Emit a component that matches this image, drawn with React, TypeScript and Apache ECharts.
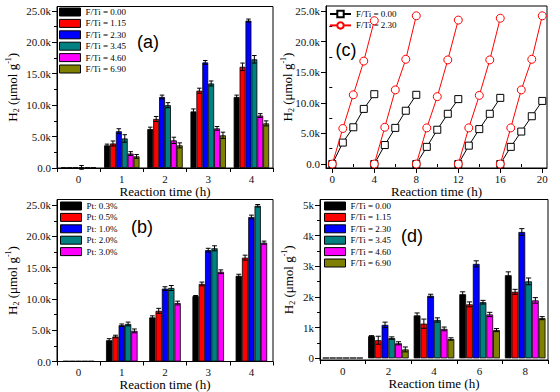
import React, { useEffect, useRef } from 'react';
import * as echarts from 'echarts';

const SERIF = "'Liberation Serif', 'Times New Roman', serif";
const SANS = "'Liberation Sans', Arial, sans-serif";

const abCategories = ['0', '1', '2', '3', '4'];
const dCategories = ['0', '2', '4', '6', '8'];

const fTiLabels = ['F/Ti = 0.00', 'F/Ti = 1.15', 'F/Ti = 2.30', 'F/Ti = 3.45', 'F/Ti = 4.60', 'F/Ti = 6.90'];
const ptLabels = ['Pt: 0.3%', 'Pt: 0.5%', 'Pt: 1.0%', 'Pt: 2.0%', 'Pt: 3.0%'];
const cLabels = ['F/Ti = 0.00', 'F/Ti = 2.30'];
const fTiColors = ['#000000', '#ff0000', '#0000ff', '#008080', '#ff00ff', '#808000'];
const ptColors = ['#000000', '#ff0000', '#0000ff', '#008080', '#ff00ff'];
const cColors = ['#000000', '#ff0000'];

// Panel (a)
const aFTi000 = [100, 3600, 6200, 9000, 11300];
const aFTi115 = [100, 3900, 7800, 12300, 16100];
const aFTi230 = [100, 5850, 11300, 16800, 23450];
const aFTi345 = [100, 4700, 10000, 13450, 17300];
const aFTi460 = [100, 2300, 4400, 6300, 8350];
const aFTi690 = [100, 1850, 3600, 5200, 7100];
const aErr000 = [0, 200, 300, 400, 300];
const aErr115 = [0, 400, 400, 400, 600];
const aErr230 = [0, 400, 300, 300, 250];
const aErr345 = [300, 600, 400, 400, 600];
const aErr460 = [0, 300, 500, 300, 300];
const aErr690 = [0, 300, 400, 500, 400];

// Panel (b)
const bPt03 = [80, 3400, 7050, 10450, 13700];
const bPt05 = [80, 4000, 8100, 12400, 16600];
const bPt10 = [80, 5800, 11650, 17800, 23100];
const bPt20 = [80, 6000, 11750, 18100, 24900];
const bPt30 = [80, 4900, 9350, 14350, 19000];
const bErr03 = [0, 250, 250, 100, 250];
const bErr05 = [0, 200, 400, 300, 400];
const bErr10 = [0, 200, 300, 300, 300];
const bErr20 = [0, 300, 400, 400, 200];
const bErr30 = [0, 300, 300, 300, 250];

// Panel (c)
const cTime = [0, 1, 2, 3, 4, 4, 5, 6, 7, 8, 8, 9, 10, 11, 12, 12, 13, 14, 15, 16, 16, 17, 18, 19, 20];
const cFTi000 = [0, 3500, 6000, 9000, 11400, 0, 3100, 5900, 8700, 11300, 0, 2800, 5600, 8200, 10600, 0, 3000, 5700, 8200, 10800, 0, 2800, 5300, 7800, 10300];
const cFTi230 = [0, 5800, 11300, 16800, 23400, 0, 6000, 12100, 17100, 24200, 0, 5900, 11000, 17000, 23500, 0, 5900, 11200, 17000, 23800, 0, 5900, 12100, 17100, 24200];

// Panel (d)
const dFTi000 = [20, 720, 1400, 2090, 2710];
const dFTi115 = [20, 590, 1130, 1760, 2170];
const dFTi230 = [20, 1090, 2040, 3080, 4120];
const dFTi345 = [20, 660, 1250, 1830, 2510];
const dFTi460 = [20, 490, 960, 1430, 1890];
const dFTi690 = [20, 290, 630, 920, 1310];
const dErr000 = [0, 20, 80, 80, 110];
const dErr115 = [0, 130, 150, 80, 80];
const dErr230 = [0, 90, 50, 100, 110];
const dErr345 = [0, 40, 70, 60, 110];
const dErr460 = [0, 50, 60, 70, 90];
const dErr690 = [0, 80, 40, 50, 50];

// Tick values
const kTicks = [0, 5000, 10000, 15000, 20000, 25000];
const kMinor = [2500, 7500, 12500, 17500, 22500];
const dTicks = [0, 1000, 2000, 3000, 4000, 5000];
const dMinor = [500, 1500, 2500, 3500, 4500];
const cXTicks = [0, 4, 8, 12, 16, 20];
const cXMinor = [2, 6, 10, 14, 18];

const BLACK = '#000';
const yName = '{n|H}{s|2}{n| (μmol g}{p|-1}{n|)}';
const yNameStyle = {
  fontFamily: SERIF,
  fontSize: 13,
  fontWeight: 'normal',
  color: BLACK,
  rich: {
    n: { fontFamily: SERIF, fontSize: 13, fontWeight: 'normal', color: BLACK, lineHeight: 16 },
    s: { fontFamily: SERIF, fontSize: 8, fontWeight: 'normal', color: BLACK, lineHeight: 8, verticalAlign: 'bottom' },
    p: { fontFamily: SERIF, fontSize: 8, fontWeight: 'normal', color: BLACK, lineHeight: 8, verticalAlign: 'top' },
  },
};
const xName = '{n|Reaction time (h)}';
const xNameStyle = {
  fontSize: 13, fontFamily: SERIF, fontWeight: 'normal', color: BLACK,
  rich: { n: { fontFamily: SERIF, fontSize: 13, fontWeight: 'normal', color: BLACK, lineHeight: 14 } },
};

const kFmt = (v: number) => (v === 0 ? '0.0' : (v / 1000).toFixed(1) + 'k');
const dFmt = (v: number) => (v === 0 ? '0' : v / 1000 + 'k');

function mainY(gridIndex: number, min: number, max: number, ticks: number[], fmt: any, nameGap: number) {
  return {
    type: 'value', gridIndex, min, max, position: 'left',
    axisLine: { show: true, onZero: false, lineStyle: { color: BLACK, width: 1 } },
    axisTick: { show: true, length: 5, customValues: ticks, lineStyle: { color: BLACK, width: 1 } },
    axisLabel: { customValues: ticks, formatter: fmt, margin: 6, fontSize: 11, fontFamily: SERIF, fontWeight: 'normal', color: '#111' },
    splitLine: { show: false },
    name: yName, nameLocation: 'middle', nameGap, nameMoveOverlap: false,
    nameTextStyle: yNameStyle,
  };
}
function minorY(gridIndex: number, min: number, max: number, ticks: number[]) {
  return {
    type: 'value', gridIndex, min, max, position: 'left',
    axisLine: { show: false },
    axisTick: { show: true, length: 3, customValues: ticks, lineStyle: { color: BLACK, width: 1 } },
    axisLabel: { show: false },
    splitLine: { show: false },
  };
}
function catX(gridIndex: number, cats: string[]) {
  return {
    type: 'category', gridIndex, data: cats, position: 'bottom',
    axisLine: { onZero: false, lineStyle: { color: BLACK, width: 1 } },
    axisTick: { show: true, length: 4, lineStyle: { color: BLACK } },
    axisLabel: { fontSize: 11, fontFamily: SERIF, fontWeight: 'normal', color: '#111', margin: 5 },
    splitLine: { show: false },
    name: xName, nameLocation: 'middle', nameGap: 16, nameMoveOverlap: false,
    nameTextStyle: xNameStyle,
  };
}

function barPanel(prefix: string, colors: string[], valueSets: number[][], errSets: number[][], xi: number, yi: number, gap: number) {
  const n = valueSets.length;
  const out: any[] = [];
  valueSets.forEach((vals, k) => {
    out.push({
      type: 'bar', name: prefix + k, xAxisIndex: xi, yAxisIndex: yi, data: vals,
      barGap: '0%', barCategoryGap: gap * 100 + '%',
      itemStyle: { color: colors[k], borderColor: BLACK, borderWidth: 0.8 },
      z: 2,
    });
  });
  errSets.forEach((errs, k) => {
    out.push({
      type: 'custom', xAxisIndex: xi, yAxisIndex: yi, z: 5,
      dimensions: ['c', 'v', 'e'],
      encode: { x: 0, y: 1 },
      data: errs.map((e, i) => [i, valueSets[k][i], e]),
      renderItem: (params: any, api: any) => {
        const ci = api.value(0), v = api.value(1), e = api.value(2);
        if (!e) return null;
        const band = api.size([1, 0])[0];
        const group = band * (1 - gap);
        const bw = group / n;
        const c = api.coord([ci, v]);
        const x = c[0] - group / 2 + bw * (k + 0.5);
        const top = api.coord([ci, v + e])[1];
        const bot = api.coord([ci, v - e])[1];
        const cap = bw * 0.38;
        const st = { stroke: BLACK, lineWidth: 1 };
        return {
          type: 'group',
          children: [
            { type: 'line', shape: { x1: x, y1: top, x2: x, y2: bot }, style: st },
            { type: 'line', shape: { x1: x - cap, y1: top, x2: x + cap, y2: top }, style: st },
            { type: 'line', shape: { x1: x - cap, y1: bot, x2: x + cap, y2: bot }, style: st },
          ],
        };
      },
    });
  });
  return out;
}

function withBreaks(xs: number[], ys: number[]) {
  const out: any[] = [];
  for (let i = 0; i < xs.length; i++) {
    if (i > 0 && i % 5 === 0) out.push([xs[i], '-']);
    out.push([xs[i], ys[i]]);
  }
  return out;
}

const legendText: Record<string, string> = {};
fTiLabels.forEach((l, i) => { legendText['a' + i] = l; legendText['d' + i] = l; });
ptLabels.forEach((l, i) => { legendText['b' + i] = l; });
cLabels.forEach((l, i) => { legendText['c' + i] = l; });

const legendTextStyle = { fontFamily: SERIF, fontSize: 9, fontWeight: 'normal', color: BLACK, lineHeight: 11 };

function barLegend(prefix: string, count: number, left: number, top: number) {
  return {
    show: true, orient: 'vertical', left, top, padding: 0,
    itemWidth: 21, itemHeight: 8, itemGap: 0.4, icon: 'rect', selectedMode: false,
    data: Array.from({ length: count }, (_, i) => prefix + i),
    formatter: (nm: string) => legendText[nm],
    itemStyle: { borderColor: BLACK, borderWidth: 1 },
    textStyle: legendTextStyle,
  };
}

const gridStyle = { show: true, borderColor: BLACK, borderWidth: 1, backgroundColor: 'transparent' };

const option: any = {
  animation: false,
  grid: [
    { left: 57, top: 6.5, width: 216, height: 161.5, ...gridStyle },
    { left: 326, top: 6, width: 221, height: 162, ...gridStyle },
    { left: 57, top: 199.5, width: 216, height: 162.5, ...gridStyle },
    { left: 320, top: 199.5, width: 228, height: 160.5, ...gridStyle },
  ],
  xAxis: [
    catX(0, abCategories),
    {
      type: 'value', gridIndex: 1, min: -0.6, max: 20.45, position: 'bottom',
      axisLine: { onZero: false, lineStyle: { color: BLACK, width: 1 } },
      axisTick: { show: true, length: 5, customValues: cXTicks, lineStyle: { color: BLACK } },
      axisLabel: { customValues: cXTicks, fontSize: 11, fontFamily: SERIF, fontWeight: 'normal', color: '#111', margin: 5 },
      splitLine: { show: false },
      name: xName, nameLocation: 'middle', nameGap: 16, nameMoveOverlap: false,
      nameTextStyle: xNameStyle,
    },
    {
      type: 'value', gridIndex: 1, min: -0.6, max: 20.45, position: 'bottom',
      axisLine: { show: false },
      axisTick: { show: true, length: 3, customValues: cXMinor, lineStyle: { color: BLACK } },
      axisLabel: { show: false },
      splitLine: { show: false },
    },
    catX(2, abCategories),
    catX(3, dCategories),
  ],
  yAxis: [
    mainY(0, 0, 25700, kTicks, kFmt, 37),
    minorY(0, 0, 25700, kMinor),
    mainY(1, -650, 25800, kTicks, kFmt, 31),
    minorY(1, -650, 25800, kMinor),
    mainY(2, 0, 25900, kTicks, kFmt, 37),
    minorY(2, 0, 25900, kMinor),
    mainY(3, -55, 5180, dTicks, dFmt, 24),
    minorY(3, -55, 5180, dMinor),
  ],
  legend: [
    barLegend('a', 6, 59, 6.5),
    {
      show: true, orient: 'vertical', left: 329, top: 8.5, padding: 0,
      itemWidth: 21, itemHeight: 8, itemGap: 0.4, selectedMode: false,
      data: ['c0', 'c1'],
      formatter: (nm: string) => legendText[nm],
      textStyle: legendTextStyle,
    },
    barLegend('b', 5, 60, 200.5),
    barLegend('d', 6, 324, 200.5),
  ],
  graphic: [
    { type: 'text', x: 148, y: 42, style: { text: '(a)', fontSize: 18, fontFamily: SANS, fill: BLACK, align: 'center', verticalAlign: 'middle' } },
    { type: 'text', x: 346, y: 50, style: { text: '(c)', fontSize: 18, fontFamily: SANS, fill: BLACK, align: 'center', verticalAlign: 'middle' } },
    { type: 'text', x: 142, y: 227, style: { text: '(b)', fontSize: 18, fontFamily: SANS, fill: BLACK, align: 'center', verticalAlign: 'middle' } },
    { type: 'text', x: 412, y: 236, style: { text: '(d)', fontSize: 18, fontFamily: SANS, fill: BLACK, align: 'center', verticalAlign: 'middle' } },
  ],
  series: [
    ...barPanel('a', fTiColors,
      [aFTi000, aFTi115, aFTi230, aFTi345, aFTi460, aFTi690],
      [aErr000, aErr115, aErr230, aErr345, aErr460, aErr690], 0, 0, 0.18),
    ...barPanel('b', ptColors,
      [bPt03, bPt05, bPt10, bPt20, bPt30],
      [bErr03, bErr05, bErr10, bErr20, bErr30], 3, 4, 0.27),
    ...barPanel('d', fTiColors,
      [dFTi000, dFTi115, dFTi230, dFTi345, dFTi460, dFTi690],
      [dErr000, dErr115, dErr230, dErr345, dErr460, dErr690], 4, 6, 0.11),
    {
      type: 'line', name: 'c0', xAxisIndex: 1, yAxisIndex: 2,
      data: withBreaks(cTime, cFTi000), connectNulls: false,
      symbol: 'rect', symbolSize: 7, showSymbol: true,
      lineStyle: { color: cColors[0], width: 1 },
      itemStyle: { color: '#fff', borderColor: cColors[0], borderWidth: 1 }, z: 3,
    },
    {
      type: 'line', name: 'c1', xAxisIndex: 1, yAxisIndex: 2,
      data: withBreaks(cTime, cFTi230), connectNulls: false,
      symbol: 'circle', symbolSize: 8, showSymbol: true,
      lineStyle: { color: cColors[1], width: 1 },
      itemStyle: { color: '#fff', borderColor: cColors[1], borderWidth: 1 }, z: 4,
    },
  ],
};

export default function App() {
  const ref = useRef<HTMLDivElement>(null);
  useEffect(() => {
    if (!ref.current) return;
    const chart = echarts.init(ref.current, null, { renderer: 'svg', width: 560, height: 392 });
    chart.setOption(option);
    return () => chart.dispose();
  }, []);
  return <div ref={ref} style={{ position: 'fixed', left: 0, top: 0, width: 560, height: 392, background: '#fff' }} />;
}
